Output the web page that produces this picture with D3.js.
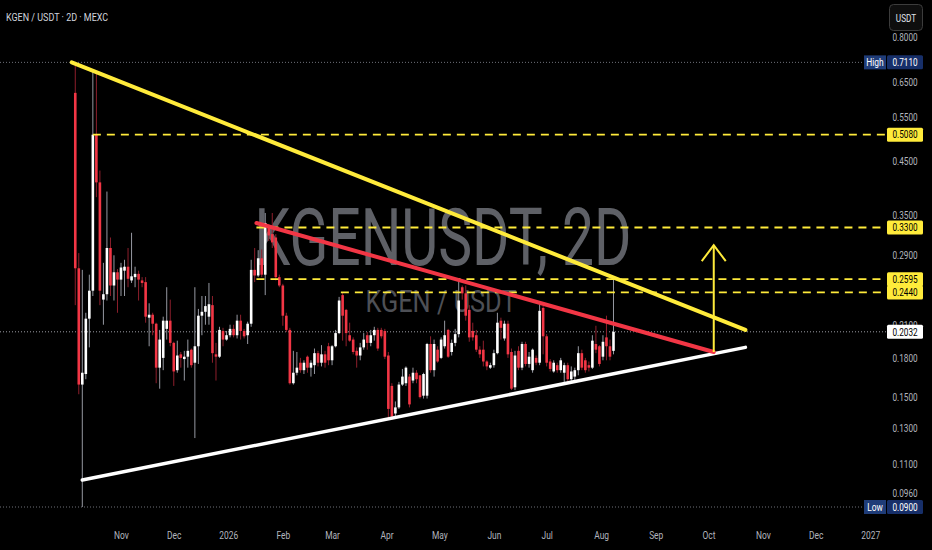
<!DOCTYPE html>
<html>
<head>
<meta charset="utf-8">
<script src="https://cdn.jsdelivr.net/npm/d3@7"></script>
<style>
  html, body { margin: 0; padding: 0; background: #000; }
  svg { display: block; font-family: Roboto, "Noto Sans", sans-serif; }
</style>
</head>
<body>
<svg width="932" height="550"></svg>
<script>
// 2D candles, KGEN / USDT on MEXC
const firstCandle = "2025-10-06";
const candleStepDays = 2;

const opens = [0.617,0.273,0.159,0.167,0.216,0.246,0.508,0.407,0.236,0.242,
  0.300,0.252,0.268,0.259,0.270,0.275,0.258,0.262,0.266,0.258,
  0.256,0.217,0.220,0.211,0.172,0.180,0.206,0.214,0.193,0.170,
  0.183,0.179,0.181,0.187,0.176,0.190,0.219,0.223,0.218,0.230,
  0.183,0.181,0.204,0.196,0.200,0.206,0.200,0.214,0.204,0.200,
  0.211,0.271,0.264,0.286,0.265,0.330,0.320,0.315,0.262,0.252,
  0.219,0.205,0.160,0.168,0.176,0.170,0.181,0.172,0.174,0.184,
  0.176,0.183,0.190,0.178,0.190,0.202,0.241,0.225,0.200,0.196,
  0.186,0.182,0.189,0.200,0.193,0.200,0.205,0.205,0.204,0.182,
  0.158,0.139,0.143,0.159,0.160,0.165,0.162,0.168,0.166,0.151,
  0.151,0.192,0.170,0.187,0.180,0.190,0.205,0.185,0.193,0.201,
  0.250,0.243,0.225,0.204,0.200,0.187,0.187,0.177,0.172,0.174,
  0.184,0.214,0.197,0.211,0.185,0.157,0.186,0.172,0.192,0.175,
  0.170,0.180,0.176,0.227,0.199,0.177,0.169,0.174,0.170,0.168,
  0.174,0.163,0.165,0.170,0.184,0.178,0.174,0.172,0.192,0.190,
  0.181,0.198,0.190,0.186];
const highs = [0.711,0.293,0.271,0.222,0.265,0.680,0.680,0.430,0.280,0.390,
  0.315,0.290,0.272,0.280,0.284,0.300,0.322,0.275,0.270,0.262,
  0.262,0.232,0.222,0.212,0.205,0.218,0.250,0.236,0.194,0.195,
  0.185,0.186,0.196,0.188,0.250,0.226,0.240,0.240,0.255,0.240,
  0.193,0.208,0.207,0.204,0.210,0.210,0.220,0.220,0.206,0.213,
  0.284,0.300,0.297,0.298,0.353,0.335,0.353,0.320,0.265,0.254,
  0.222,0.207,0.186,0.185,0.180,0.178,0.182,0.178,0.188,0.186,
  0.191,0.186,0.193,0.191,0.205,0.239,0.244,0.226,0.212,0.198,
  0.189,0.193,0.202,0.203,0.205,0.208,0.207,0.207,0.206,0.185,
  0.160,0.147,0.161,0.171,0.173,0.167,0.172,0.170,0.166,0.168,
  0.193,0.199,0.196,0.190,0.198,0.214,0.206,0.196,0.206,0.259,
  0.252,0.252,0.230,0.212,0.205,0.190,0.195,0.178,0.176,0.187,
  0.222,0.217,0.214,0.214,0.188,0.186,0.190,0.194,0.194,0.185,
  0.188,0.182,0.231,0.229,0.201,0.179,0.178,0.176,0.180,0.176,
  0.176,0.173,0.172,0.190,0.187,0.180,0.177,0.200,0.209,0.191,
  0.200,0.219,0.196,0.2595];
const lows = [0.230,0.152,0.090,0.163,0.189,0.240,0.380,0.230,0.210,0.235,
  0.240,0.235,0.222,0.240,0.240,0.250,0.255,0.250,0.235,0.250,
  0.212,0.190,0.200,0.160,0.156,0.170,0.196,0.190,0.158,0.168,
  0.172,0.162,0.172,0.172,0.124,0.175,0.200,0.210,0.210,0.176,
  0.162,0.180,0.190,0.195,0.198,0.198,0.197,0.196,0.197,0.192,
  0.208,0.256,0.262,0.262,0.241,0.310,0.300,0.258,0.250,0.209,
  0.203,0.159,0.159,0.166,0.168,0.167,0.168,0.165,0.167,0.173,
  0.173,0.172,0.174,0.174,0.189,0.201,0.195,0.190,0.194,0.183,
  0.172,0.178,0.187,0.187,0.190,0.195,0.186,0.197,0.179,0.136,
  0.135,0.137,0.142,0.158,0.158,0.143,0.160,0.160,0.149,0.149,
  0.149,0.168,0.165,0.176,0.179,0.188,0.180,0.182,0.190,0.198,
  0.236,0.214,0.194,0.195,0.185,0.180,0.173,0.170,0.171,0.172,
  0.183,0.196,0.195,0.180,0.155,0.155,0.170,0.170,0.173,0.172,
  0.168,0.174,0.174,0.183,0.173,0.169,0.168,0.168,0.168,0.160,
  0.160,0.160,0.162,0.166,0.170,0.168,0.169,0.171,0.184,0.173,
  0.178,0.178,0.178,0.183];
const closes = [0.273,0.159,0.168,0.216,0.246,0.508,0.407,0.246,0.242,0.300,
  0.252,0.268,0.259,0.274,0.275,0.260,0.263,0.266,0.259,0.255,
  0.218,0.220,0.211,0.172,0.196,0.214,0.214,0.193,0.169,0.182,
  0.180,0.181,0.186,0.174,0.190,0.219,0.223,0.229,0.231,0.184,
  0.181,0.205,0.196,0.200,0.206,0.200,0.214,0.204,0.199,0.211,
  0.271,0.264,0.286,0.265,0.337,0.318,0.308,0.262,0.252,0.219,
  0.205,0.160,0.168,0.172,0.170,0.176,0.172,0.176,0.184,0.176,
  0.183,0.176,0.178,0.190,0.202,0.235,0.219,0.202,0.195,0.185,
  0.182,0.189,0.196,0.193,0.200,0.205,0.188,0.199,0.181,0.142,
  0.137,0.143,0.159,0.165,0.172,0.145,0.168,0.163,0.150,0.167,
  0.192,0.170,0.192,0.177,0.196,0.200,0.181,0.193,0.201,0.235,
  0.243,0.219,0.198,0.198,0.187,0.183,0.177,0.173,0.174,0.184,
  0.212,0.207,0.211,0.183,0.156,0.182,0.172,0.192,0.175,0.181,
  0.187,0.176,0.224,0.199,0.176,0.171,0.176,0.170,0.178,0.174,
  0.163,0.169,0.170,0.184,0.172,0.170,0.172,0.195,0.187,0.175,
  0.194,0.190,0.181,0.2032];

// 0.2400 sits fully under the 0.2440 tag, so it is left out
const priceTicks = [0.8, 0.65, 0.55, 0.45, 0.35, 0.29, 0.21, 0.18, 0.15, 0.13, 0.11, 0.096];
const monthTicks = ["2025-11-01","2025-12-01","2026-01-01","2026-02-01","2026-03-01","2026-04-01",
  "2026-05-01","2026-06-01","2026-07-01","2026-08-01","2026-09-01","2026-10-01","2026-11-01",
  "2026-12-01","2027-01-01"];
const monthLabels = ["Nov","Dec","2026","Feb","Mar","Apr","May","Jun","Jul","Aug","Sep","Oct","Nov","Dec","2027"];

const highPrice = 0.711;
const lowPrice = 0.09;
const lastPrice = 0.2032;
const levelPrices = [0.508, 0.33, 0.2595, 0.244];
const levelStarts = ["2025-10-16", "2026-01-17", "2026-01-17", "2026-03-06"];

// hand drawn lines, [date, price]
const upperTrend = [["2025-10-04", 0.711], ["2026-10-22", 0.205]];
const innerTrend = [["2026-01-17", 0.337], ["2026-10-04", 0.185]];
const lowerTrend = [["2025-10-10", 0.102], ["2026-10-22", 0.189]];
const targetArrow = [["2026-10-04", 0.185], ["2026-10-04", 0.304]];

const svg = d3.select("svg");
const width = +svg.attr("width");
const height = +svg.attr("height");
const plotRight = 886;

svg.append("rect").attr("width", width).attr("height", height).attr("fill", "#000");

const x = d3.scaleUtc()
    .domain([new Date("2025-11-01"), new Date("2026-11-01")])
    .range([121, 763]);
const y = d3.scaleLog()
    .domain([0.09, 0.8])
    .range([507, 37]);

// squeeze text horizontally, the screenshot is a bit narrow
const squeeze = (sel, f) => sel.each(function () {
    const len = this.getComputedTextLength();
    d3.select(this).attr("textLength", len * f).attr("lengthAdjust", "spacingAndGlyphs");
});

// watermark
svg.append("text")
    .attr("x", 443).attr("y", 265)
    .attr("text-anchor", "middle")
    .attr("font-size", 80)
    .attr("fill", "#5e6066")
    .attr("textLength", 377).attr("lengthAdjust", "spacingAndGlyphs")
    .text("KGENUSDT, 2D");
svg.append("text")
    .attr("x", 441).attr("y", 312)
    .attr("text-anchor", "middle")
    .attr("font-size", 31)
    .attr("fill", "#4e5056")
    .attr("textLength", 151).attr("lengthAdjust", "spacingAndGlyphs")
    .text("KGEN / USDT");

const plot = svg.append("g");

// dotted high / low / last lines
[[highPrice, 864], [lowPrice, 864], [lastPrice, plotRight]].forEach(([p, end]) => {
    plot.append("line")
        .attr("x1", 0).attr("x2", end)
        .attr("y1", y(p)).attr("y2", y(p))
        .attr("stroke", p === lastPrice ? "#9a9ca3" : "#6f7179")
        .attr("stroke-width", 1)
        .attr("stroke-dasharray", "1,2");
});

// candles
const candles = closes.map((c, i) => ({
    date: d3.utcDay.offset(new Date(firstCandle), i * candleStepDays),
    open: opens[i], high: highs[i], low: lows[i], close: c
}));
const bodyW = 2.6;

plot.selectAll(".wick")
    .data(candles)
    .enter()
    .append("line")
    .attr("class", "wick")
    .attr("x1", d => x(d.date)).attr("x2", d => x(d.date))
    .attr("y1", d => y(d.high)).attr("y2", d => y(d.low))
    .attr("stroke", d => d.close >= d.open ? "#9598a1" : "#8e1f2c")
    .attr("stroke-width", 1);

plot.selectAll(".body")
    .data(candles)
    .enter()
    .append("rect")
    .attr("class", "body")
    .attr("x", d => x(d.date) - bodyW / 2)
    .attr("y", d => y(Math.max(d.open, d.close)))
    .attr("width", bodyW)
    .attr("height", d => Math.max(1, Math.abs(y(d.open) - y(d.close))))
    .attr("fill", d => d.close >= d.open ? "#ffffff" : "#f23645");

// dashed levels
levelPrices.forEach((p, i) => {
    plot.append("line")
        .attr("x1", x(new Date(levelStarts[i]))).attr("x2", plotRight)
        .attr("y1", y(p)).attr("y2", y(p))
        .attr("stroke", "#ffeb3b")
        .attr("stroke-width", 1.8)
        .attr("stroke-dasharray", "8,6");
});

// trend lines
const line = d3.line()
    .x(d => x(new Date(d[0])))
    .y(d => y(d[1]));

plot.append("path").datum(lowerTrend)
    .attr("d", line).attr("fill", "none")
    .attr("stroke", "#ffffff").attr("stroke-width", 3.5).attr("stroke-linecap", "round");
plot.append("path").datum(innerTrend)
    .attr("d", line).attr("fill", "none")
    .attr("stroke", "#f23645").attr("stroke-width", 4).attr("stroke-linecap", "round");
plot.append("path").datum(upperTrend)
    .attr("d", line).attr("fill", "none")
    .attr("stroke", "#ffeb3b").attr("stroke-width", 4).attr("stroke-linecap", "round");

// target arrow
const ax = x(new Date(targetArrow[1][0]));
const ay = y(targetArrow[1][1]);
plot.append("path").datum(targetArrow)
    .attr("d", line).attr("fill", "none")
    .attr("stroke", "#ffeb3b").attr("stroke-width", 2);
plot.append("path")
    .attr("d", `M${ax - 12},${ay + 16}L${ax},${ay}L${ax + 12},${ay + 16}`)
    .attr("fill", "none")
    .attr("stroke", "#ffeb3b").attr("stroke-width", 2);

// time axis
const xAxis = d3.axisBottom(x)
    .tickValues(monthTicks.map(d => new Date(d)))
    .tickFormat((d, i) => monthLabels[i])
    .tickSize(0)
    .tickPadding(0);
svg.append("g")
    .attr("transform", `translate(0,532)`)
    .call(xAxis)
    .call(g => g.select(".domain").remove())
    .call(g => g.selectAll("text")
        .attr("fill", "#b2b5be")
        .attr("font-size", 10.5)
        .attr("font-family", "Roboto, sans-serif")
        .call(squeeze, 0.8));

// price axis
const yAxis = d3.axisRight(y)
    .tickValues(priceTicks)
    .tickFormat(d3.format(".4f"))
    .tickSize(0)
    .tickPadding(0);
svg.append("g")
    .attr("transform", `translate(905,0)`)
    .call(yAxis)
    .call(g => g.select(".domain").remove())
    .call(g => g.selectAll("text")
        .attr("x", 0)
        .attr("text-anchor", "middle")
        .attr("fill", "#b2b5be")
        .attr("font-size", 10.5)
        .attr("font-family", "Roboto, sans-serif")
        .call(squeeze, 0.78));

// price tags
const tag = (p, fill, color) => {
    const g = svg.append("g").attr("transform", `translate(0,${y(p)})`);
    g.append("rect")
        .attr("x", 887).attr("y", -7)
        .attr("width", 36).attr("height", 14)
        .attr("rx", 1.5)
        .attr("fill", fill);
    g.append("text")
        .attr("x", 905).attr("y", 0).attr("dy", "0.36em")
        .attr("text-anchor", "middle")
        .attr("font-size", 10.5)
        .attr("fill", color)
        .text(d3.format(".4f")(p))
        .call(squeeze, 0.78);
    return g;
};
levelPrices.forEach(p => tag(p, "#ffeb3b", "#000"));
tag(lastPrice, "#ffffff", "#000");
[[highPrice, "High"], [lowPrice, "Low"]].forEach(([p, name]) => {
    const g = tag(p, "#172f69", "#ffffff");
    g.append("rect")
        .attr("x", 864).attr("y", -7)
        .attr("width", 22).attr("height", 14)
        .attr("fill", "#1f3c78");
    g.append("text")
        .attr("x", 875).attr("y", 0).attr("dy", "0.36em")
        .attr("text-anchor", "middle")
        .attr("font-size", 10.5)
        .attr("fill", "#ffffff")
        .text(name)
        .call(squeeze, 0.8);
});

// currency button
svg.append("rect")
    .attr("x", 889.5).attr("y", 4.5)
    .attr("width", 33).attr("height", 26)
    .attr("rx", 4)
    .attr("fill", "#0e0e0e")
    .attr("stroke", "#3c3c3c");
svg.append("text")
    .attr("x", 906).attr("y", 18).attr("dy", "0.36em")
    .attr("text-anchor", "middle")
    .attr("font-size", 10.5)
    .attr("fill", "#e0e3eb")
    .text("USDT")
    .call(squeeze, 0.78);

// title
svg.append("text")
    .attr("x", 6).attr("y", 21)
    .attr("font-size", 11.5)
    .attr("fill", "#d1d4dc")
    .text("KGEN / USDT · 2D · MEXC")
    .call(squeeze, 0.78);
</script>
</body>
</html>
